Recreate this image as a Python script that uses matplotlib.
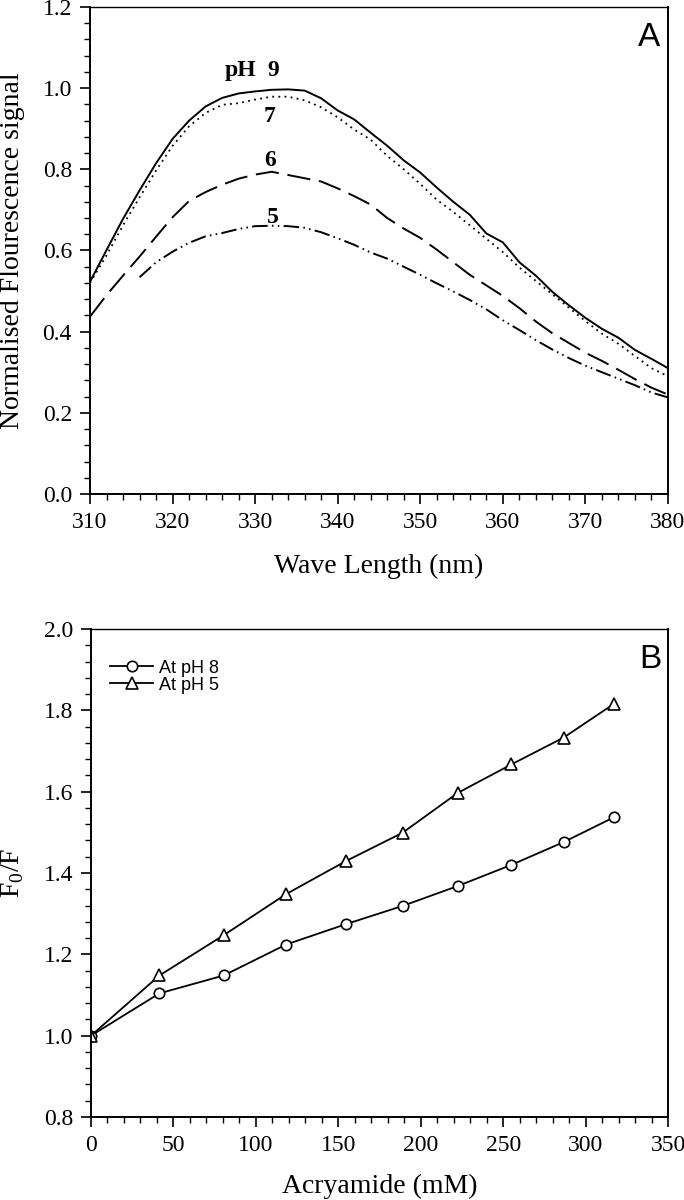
import numpy as np
import matplotlib.pyplot as plt
from matplotlib.ticker import MultipleLocator, FormatStrFormatter

plt.rcParams['font.family'] = 'Liberation Serif'
plt.rcParams['mathtext.fontset'] = 'custom'
plt.rcParams['mathtext.rm'] = 'Liberation Serif'

# Panel A: emission spectra (2 nm grid)
wl = [310, 312, 314, 316, 318, 320, 322, 324, 326, 328, 330, 332, 334, 336, 338, 340, 342, 344,
      346, 348, 350, 352, 354, 356, 358, 360, 362, 364, 366, 368, 370, 372, 374, 376, 378, 380]
ph9 = [0.523, 0.601, 0.678, 0.748, 0.815, 0.875, 0.920, 0.955, 0.976, 0.987, 0.992, 0.996,
       0.997, 0.994, 0.975, 0.945, 0.923, 0.890, 0.858, 0.822, 0.792, 0.755, 0.720, 0.688,
       0.642, 0.620, 0.571, 0.538, 0.498, 0.465, 0.434, 0.407, 0.385, 0.355, 0.333, 0.310]
ph7 = [0.520, 0.588, 0.662, 0.731, 0.797, 0.858, 0.906, 0.939, 0.959, 0.963, 0.972, 0.979,
       0.979, 0.970, 0.953, 0.928, 0.898, 0.873, 0.833, 0.800, 0.764, 0.725, 0.695, 0.662,
       0.629, 0.596, 0.558, 0.525, 0.492, 0.459, 0.426, 0.395, 0.370, 0.340, 0.310, 0.290]
ph6 = [0.437, 0.490, 0.538, 0.585, 0.634, 0.682, 0.722, 0.744, 0.762, 0.777, 0.787, 0.794,
       0.786, 0.778, 0.770, 0.753, 0.734, 0.713, 0.680, 0.654, 0.631, 0.602, 0.571, 0.540,
       0.514, 0.488, 0.458, 0.425, 0.396, 0.372, 0.348, 0.328, 0.306, 0.283, 0.262, 0.245]
wl5 = wl[3:]
ph5 = [0.534, 0.571, 0.597, 0.619, 0.635, 0.643, 0.653, 0.660, 0.661, 0.660, 0.656, 0.645,
       0.630, 0.614, 0.595, 0.580, 0.560, 0.540, 0.519, 0.499, 0.478, 0.455, 0.428, 0.404,
       0.379, 0.356, 0.335, 0.316, 0.300, 0.284, 0.268, 0.250, 0.238]

# Panel B: Stern-Volmer quenching
acr = [0, 41.5, 80.5, 118.3, 154.5, 189, 222.5, 255, 286.7, 317.2]
f_ph8 = [1.0, 1.104, 1.148, 1.224, 1.274, 1.319, 1.368, 1.420, 1.476, 1.537]
f_ph5 = [1.0, 1.148, 1.247, 1.348, 1.429, 1.499, 1.597, 1.667, 1.733, 1.816]

fig = plt.figure(figsize=(6.84, 12), dpi=100)
axA = fig.add_axes([90/684, 1-494/1200, 578/684, 487/1200])
axB = fig.add_axes([91/684, 1-1117/1200, 577/684, 488/1200])


def style(ax):
    for s in ['left', 'bottom', 'right']:
        ax.spines[s].set_linewidth(1.4)
    ax.spines['top'].set_linewidth(1.0)
    ax.tick_params(which='major', direction='out', length=7, width=1.2,
                   labelsize=17, pad=6, top=False, right=False)
    ax.tick_params(which='minor', direction='out', length=4, width=1.0,
                   top=False, right=False)
    ax.yaxis.set_major_formatter(FormatStrFormatter('%.1f'))


lw = 1.4
axA.plot(wl, ph9, color='black', lw=lw)
axA.plot(wl, ph7, color='black', lw=1.3, linestyle=(0, (1, 2.4)))
axA.plot(wl, ph6, color='black', lw=lw, linestyle=(0, (12, 4.5)))
axA.plot(wl5, ph5, color='black', lw=lw, linestyle=(0, (8, 2.2, 0.8, 2.2, 0.8, 2.2)))
axA.set_xlim(310, 380)
axA.set_ylim(0, 1.2)
axA.xaxis.set_major_locator(MultipleLocator(10))
axA.xaxis.set_minor_locator(MultipleLocator(2))
axA.yaxis.set_major_locator(MultipleLocator(0.2))
axA.yaxis.set_minor_locator(MultipleLocator(0.04))
style(axA)
axA.set_xlabel('Wave Length (nm)', fontsize=20)
axA.set_ylabel('Normalised Flourescence signal', fontsize=20)
axA.xaxis.set_label_coords(0.5, -0.122)
axA.yaxis.set_label_coords(-0.112, 0.5)

kw = dict(fontsize=17, fontweight='bold', ha='center', va='baseline')
axA.text(328.2, 1.030, 'pH', **kw)
axA.text(332.2, 1.030, '9', **kw)
axA.text(331.8, 0.917, '7', **kw)
axA.text(331.8, 0.807, '6', **kw)
axA.text(332.2, 0.667, '5', **kw)
axA.text(0.968, 0.919, 'A', transform=axA.transAxes, fontsize=24,
         family='Liberation Sans', ha='center', va='baseline')

axB.plot(acr, f_ph8, color='black', lw=1.3, marker='o', ms=7.5,
         mfc='white', mec='black', mew=1.2, label='At pH 8')
axB.plot(acr, f_ph5, color='black', lw=1.3, marker='^', ms=8.5,
         mfc='white', mec='black', mew=1.2, label='At pH 5')
axB.set_xlim(0, 350)
axB.set_ylim(0.8, 2.0)
axB.xaxis.set_major_locator(MultipleLocator(50))
axB.xaxis.set_minor_locator(MultipleLocator(10))
axB.yaxis.set_major_locator(MultipleLocator(0.2))
axB.yaxis.set_minor_locator(MultipleLocator(0.04))
style(axB)
axB.set_xlabel('Acryamide (mM)', fontsize=20)
axB.set_ylabel(r'F$_0$/F', fontsize=20)
axB.xaxis.set_label_coords(0.5, -0.117)
axB.yaxis.set_label_coords(-0.112, 0.5)
axB.legend(loc='upper left', bbox_to_anchor=(0.033, 0.937), frameon=False,
           borderaxespad=0, borderpad=0, handlelength=2.4, handletextpad=0.3,
           labelspacing=0.0, prop={'family': 'Liberation Sans', 'size': 13})
axB.text(0.97, 0.920, 'B', transform=axB.transAxes, fontsize=24,
         family='Liberation Sans', ha='center', va='baseline')

fig.savefig('out.png', dpi=100)
